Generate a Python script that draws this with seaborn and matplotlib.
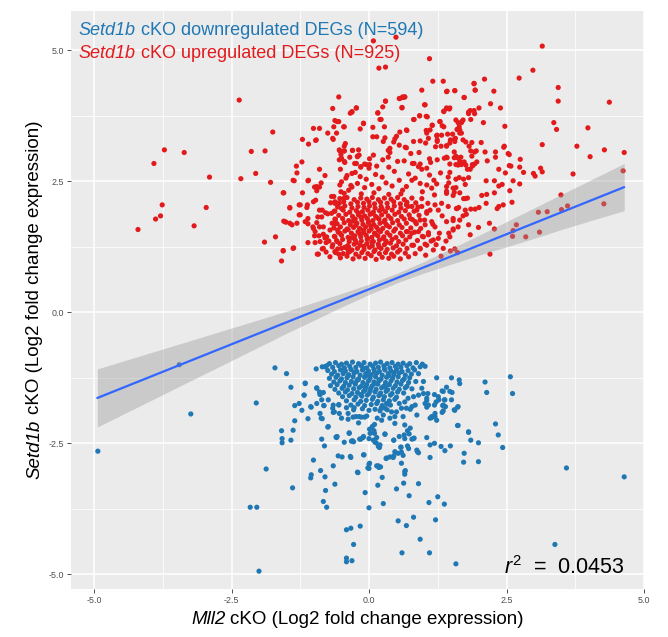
import numpy as np
import pandas as pd
import matplotlib
matplotlib.use("Agg")
import matplotlib.pyplot as plt
from matplotlib.transforms import offset_copy
import seaborn as sns

# ---------------- data ----------------
# Setd1b cKO upregulated DEGs (red)
up_outer = [(-2.36,4.05),(-3.72,3.10),(-3.36,3.05),(-3.91,2.84),(-2.90,2.58),(-2.33,2.55),(-3.76,2.05),
    (-2.96,2.00),(-3.79,1.84),(-3.88,1.78),(-3.18,1.65),(-4.20,1.58),(-1.75,3.44),(-2.14,3.07),(-1.89,3.08),
    (-2.06,2.65),(-1.79,2.48),(-1.90,1.34),(-1.70,1.44),(-1.59,0.98),(-1.56,1.17),(-1.37,1.23),(-1.55,2.28),
    (-1.55,1.74),(-1.51,1.72),(-1.44,2.00),(-1.40,1.67),(-1.31,1.70),(-1.27,1.86),(-1.25,2.05),(-1.38,2.52),
    (-1.31,2.66),(-1.32,2.79),(-1.22,2.87),(-1.21,3.30),(-1.10,3.21),(-0.97,3.28),(-1.01,3.51),(-0.90,3.51),
    (-1.11,2.51),(-1.21,2.28),(-1.12,2.05),(-1.13,2.00),(-1.11,1.79),(-1.11,1.69),(-1.11,1.33),(-0.98,1.33),
    (-0.94,1.11),(-0.90,2.73),(-0.80,2.61),(-0.99,2.39),(-0.90,2.39),(-0.95,2.32),(-0.97,2.14),(-0.87,2.47),
    (-0.75,3.42),(-0.66,3.32),(-0.59,3.42),(-0.66,3.89),(-0.55,4.11),(-0.62,3.66),(-0.55,3.64),(-0.46,3.54),
    (-0.64,3.54),(-0.34,3.80),(-0.31,3.83),(-0.23,3.90),(-0.10,3.60),(-0.16,3.50),(-0.43,3.22),(-0.45,3.17),
    (-0.53,3.08),(-0.45,3.08),(-0.54,2.91),(0.08,5.18),(0.49,5.25),(3.15,5.08),(0.18,4.66),(0.30,4.68),(1.10,4.84)]
up_left = [(-0.93,1.82),(-0.85,1.95),(-0.79,1.90),(-0.75,1.88),(-0.90,1.63),(-0.83,1.49),(-0.91,1.46),
    (-0.80,1.42),(-0.78,1.33),(-0.73,1.36),(-0.70,2.09),(-0.64,2.21),(-0.62,2.11),(-0.54,2.08),(-0.62,1.78),
    (-0.62,1.69),(-0.57,1.57),(-0.53,1.51),(-0.62,1.44),(-0.58,1.35),(-0.67,1.25),(-0.55,1.11),(-0.50,1.22),
    (-0.40,1.22),(-0.38,1.14),(-0.85,1.21),(-0.78,1.15),(-0.92,1.11),(-0.99,1.46),(-1.01,1.60),(-0.95,1.71),
    (-0.67,1.70),(-0.71,1.57),(-0.63,1.93),(-0.50,1.98),(-0.45,2.18),(-0.51,2.30),(-0.37,2.33),(-0.31,2.39),
    (-0.42,2.56),(-0.50,2.49),(-0.53,2.43),(-0.25,2.67),(-0.31,2.65),(-0.16,2.59),(-0.05,2.54),(-0.15,2.77),
    (-0.21,2.98),(-0.18,3.00),(-0.30,3.09),(-0.45,2.88),(-0.52,2.73),(-0.26,2.84),(-0.05,2.82),(0.00,2.75),
    (-1.56,2.28),(-1.44,1.99),(-1.53,1.73),(-1.36,2.51),(-1.27,2.05),(-1.25,1.86),(-1.16,1.73),(-1.10,2.52),
    (-1.01,2.11),(-0.95,2.40),(-0.90,1.95),(-0.86,1.82),(-0.83,1.63),(-0.98,1.54),(-0.89,1.35),(-0.77,1.44),
    (-0.68,1.89),(-0.68,2.21),(-0.62,2.08),(-1.38,1.22),(-1.56,1.18),(-0.83,1.22),(-0.62,1.16),(-0.71,1.06),
    (-1.02,1.63),(-1.44,1.70)]
up_upper = [(0.55,4.08),(0.62,4.10),(0.65,4.11),(0.16,3.81),(0.30,4.03),(0.60,3.91),(1.01,3.96),(1.41,4.21),
    (1.56,4.23),(1.73,4.10),(1.91,4.37),(1.93,4.24),(0.92,3.75),(1.04,3.74),(0.81,3.68),(0.68,3.48),(1.04,3.47),
    (1.15,3.57),(1.29,3.64),(1.33,3.56),(1.69,3.64),(1.71,3.67),(1.41,3.90),(1.47,3.90),(1.36,3.84),(1.58,3.67),
    (1.61,3.49),(1.81,3.82),(1.91,3.85),(1.85,3.68),(-0.10,3.61),(-0.45,3.54),(-0.58,3.64),(0.07,3.53),
    (0.28,3.54),(0.20,3.68),(0.07,3.35),(0.29,3.33),(0.50,3.36),(0.56,3.44),(0.69,3.47),(0.81,3.26),(0.93,3.27),
    (1.03,3.23),(1.08,3.32),(1.23,3.37),(1.24,3.29),(1.21,3.16),(1.31,3.17),(1.41,3.18),(1.48,3.29),(1.56,3.31),
    (1.52,3.40),(1.65,3.48),(1.71,3.29),(1.82,3.17),(1.87,3.24),(1.92,3.06),(1.76,3.25),(1.58,2.98),(1.61,2.95),
    (1.42,2.95),(1.37,2.94),(1.47,2.83),(1.65,2.88),(1.76,2.81),(1.88,2.82),(1.96,2.87),(1.24,2.91),(1.10,2.93),
    (0.93,2.83),(0.79,2.84),(0.64,2.89),(0.52,2.88),(0.35,2.96),(0.25,2.91),(0.14,2.79),(0.01,2.82),(-0.08,2.83),
    (-0.15,2.78),(-0.23,2.84),(-0.35,2.96),(-0.21,2.97),(-0.30,3.09),(-0.45,3.08),(-0.54,3.10),(-0.51,3.01),
    (-0.44,2.86),(-0.50,2.94),(-0.65,3.30),(-0.96,3.29),(0.47,3.31),(0.45,3.25),(0.66,3.15),(0.76,3.03),
    (0.91,3.05),(0.68,3.14),(0.55,3.19),(0.38,3.13),(0.35,3.09),(0.38,3.05),(0.26,3.26),(0.14,3.35),(0.08,3.00),
    (0.01,2.93),(-0.19,3.10),(2.73,4.47),(2.47,3.55)]
up_right = [(2.98,4.62),(1.16,4.41),(1.35,4.41),(2.10,4.45),(1.91,4.36),(1.93,4.24),(1.42,4.22),(1.56,4.23),
    (1.73,4.10),(2.27,4.22),(0.96,4.24),(0.65,4.11),(0.56,4.08),(0.61,4.11),(0.30,4.03),(0.25,3.92),(1.02,3.96),
    (0.60,3.90),(-0.23,3.90),(-0.31,3.82),(1.84,3.85),(1.92,3.79),(1.81,3.79),(2.00,3.90),(2.21,3.98),(2.39,3.90),
    (1.41,3.89),(1.46,3.88),(1.36,3.83),(0.16,3.80),(0.22,3.68),(0.82,3.68),(0.92,3.75),(1.06,3.73),(3.44,4.29),
    (3.44,4.03),(4.37,4.01),(2.08,3.62),(3.36,3.62),(3.41,3.49),(3.98,3.52),(3.15,3.20),(3.78,3.17),(4.28,3.10),
    (4.64,3.05),(4.02,2.97),(3.71,2.64),(4.62,2.70),(3.12,2.75),(3.15,2.68),(2.99,2.65),(3.02,2.60),(3.49,2.24),
    (4.27,2.07),(3.61,2.03),(3.50,1.96),(3.24,1.92),(3.08,1.91),(3.10,1.53),(2.85,1.44),(2.68,1.67),(2.62,1.56),
    (2.61,1.45),(2.28,1.59),(2.19,1.70),(2.20,1.11),(2.53,3.03),(2.55,3.01),(2.46,3.17),(2.45,3.15),(2.75,2.92),
    (2.74,2.77),(2.81,2.67),(2.55,2.80),(2.58,2.79),(2.36,2.73),(2.48,2.66),(2.74,2.45),(2.62,2.51),(2.42,2.44),
    (2.36,2.41),(2.60,2.10),(2.56,2.32),(2.44,2.05),(2.36,2.02),(2.33,1.98),(2.30,3.06),(2.30,2.96),(2.15,2.89),
    (2.11,3.06),(2.04,3.24),(2.28,2.51),(2.13,2.51),(2.28,2.28),(2.14,2.25),(2.05,2.23),(2.13,2.08),(2.00,2.00),
    (1.93,1.97),(1.85,1.97),(1.99,1.62),(1.81,1.67),(1.84,1.48),(1.53,1.75),(1.45,1.51),(1.56,1.21),(1.61,1.14),
    (1.71,1.84),(1.77,1.87),(1.75,2.17),(1.72,2.17),(1.79,2.18),(1.63,2.00),(1.60,1.98),(1.53,1.59),(1.85,3.08),
    (1.95,3.08),(1.87,2.98),(1.92,2.83),(1.88,2.79),(1.84,2.73),(1.79,2.73),(1.68,2.82),(1.73,2.87),(1.58,2.82),
    (1.55,2.95),(1.62,2.81),(1.47,2.67),(1.44,2.58),(1.45,2.47),(1.41,2.40),(1.41,2.31),(1.58,2.54),(1.64,2.57),
    (1.72,2.54),(1.81,2.57),(1.75,2.44),(1.55,2.29),(1.58,2.38),(1.65,2.28),(1.53,2.23),(1.29,3.64),(1.36,3.54),
    (1.15,3.57),(1.05,3.42),(1.11,3.48),(1.24,3.38),(1.24,3.26),(1.32,3.38),(1.43,3.40),(1.47,3.23),(1.41,3.17),
    (1.56,3.26),(1.57,3.32),(1.60,3.49),(1.64,3.54),(1.68,3.62),(1.62,3.62),(1.65,3.42),(1.68,3.42),(1.55,3.06),
    (1.67,2.96),(1.41,2.96)]
up_ring = [(0.68,2.40),(0.78,2.52),(0.84,2.56),(0.93,2.46),(1.05,2.43),(1.14,2.37),(0.82,2.84),(0.90,2.78),
    (0.96,2.73),(1.05,2.75),(1.10,2.62),(1.18,2.52),(1.23,2.45),(0.68,2.05),(0.78,2.02),(0.87,1.95),(0.96,2.02),
    (1.05,1.89),(1.11,1.95),(1.20,2.05),(1.26,1.95),(0.75,1.79),(0.84,1.73),(0.93,1.76),(1.02,1.67),(1.14,1.73),
    (1.20,1.63),(0.68,1.54),(0.78,1.51),(0.90,1.54),(0.99,1.44),(1.08,1.48),(1.17,1.38),(1.26,1.41),(0.81,1.28),
    (0.93,1.22),(1.05,1.28),(1.17,1.19),(1.35,1.22),(1.47,1.44),(1.53,1.57),(1.62,1.63),(1.41,1.73),(1.53,1.79),
    (1.65,1.76),(1.75,1.95),(1.59,1.98),(1.44,2.02),(1.32,2.08),(1.41,2.27),(1.53,2.37),(0.42,2.41),(0.31,2.47),
    (0.18,2.36),(0.05,2.44),(-0.08,2.38),(-0.21,2.46),(0.55,2.52),(0.24,2.58),(0.61,2.33),(-0.33,2.42),
    (0.12,2.63),(0.46,2.69),(0.72,2.64),(0.97,2.30),(1.19,2.24),(1.30,2.66),(1.12,2.86),(0.36,2.77),(-0.40,2.61),
    (1.28,1.51),(1.33,1.84),(1.22,1.29),(1.40,1.36),(1.03,1.09),(1.31,1.07),(1.48,1.17)]
up_core = [(-0.52,1.04),(-0.40,1.07),(-0.29,1.02),(-0.18,1.06),(-0.07,1.03),(0.04,1.08),(0.13,1.01),(0.24,1.05),
    (0.36,1.03),(0.45,1.07),(0.57,1.02),(0.72,1.06),(-0.61,1.14),(-0.47,1.12),(-0.35,1.16),(-0.24,1.11),
    (-0.13,1.14),(-0.02,1.12),(0.09,1.16),(0.19,1.12),(0.30,1.14),(0.41,1.11),(0.52,1.15),(0.66,1.13),(0.84,1.12),
    (-0.57,1.21),(-0.44,1.24),(-0.31,1.19),(-0.21,1.22),(-0.09,1.20),(0.01,1.24),(0.11,1.19),(0.22,1.22),
    (0.33,1.20),(0.44,1.23),(0.56,1.19),(0.69,1.22),(0.93,1.21),(-0.66,1.29),(-0.53,1.31),(-0.39,1.27),
    (-0.27,1.30),(-0.16,1.28),(-0.04,1.31),(0.06,1.27),(0.17,1.30),(0.28,1.29),(0.39,1.32),(0.50,1.27),(0.62,1.30),
    (0.78,1.28),(1.02,1.30),(-0.59,1.37),(-0.48,1.39),(-0.36,1.35),(-0.25,1.38),(-0.14,1.36),(-0.03,1.39),
    (0.08,1.35),(0.19,1.38),(0.31,1.36),(0.42,1.39),(0.54,1.35),(0.67,1.38),(0.88,1.37),(1.13,1.36),
    (-0.63,1.45),(-0.50,1.47),(-0.38,1.43),(-0.26,1.46),(-0.15,1.44),(-0.05,1.47),(0.05,1.43),(0.16,1.46),
    (0.27,1.44),(0.38,1.47),(0.49,1.43),(0.61,1.46),(0.74,1.44),(0.97,1.45),(-0.56,1.53),(-0.44,1.55),
    (-0.32,1.51),(-0.20,1.54),(-0.10,1.52),(0.00,1.55),(0.10,1.51),(0.21,1.54),(0.33,1.52),(0.45,1.55),
    (0.57,1.51),(0.70,1.54),(0.83,1.53),(1.08,1.52),(-0.64,1.61),(-0.52,1.63),(-0.40,1.59),(-0.28,1.62),
    (-0.17,1.60),(-0.06,1.63),(0.04,1.59),(0.14,1.62),(0.25,1.60),(0.37,1.63),(0.48,1.59),(0.60,1.62),(0.76,1.61),
    (0.94,1.60),(-0.58,1.69),(-0.45,1.71),(-0.34,1.67),(-0.22,1.70),(-0.11,1.68),(-0.01,1.71),(0.09,1.67),
    (0.20,1.70),(0.31,1.68),(0.43,1.71),(0.55,1.67),(0.68,1.70),(0.86,1.69),(1.16,1.68),(-0.61,1.77),(-0.48,1.79),
    (-0.37,1.75),(-0.25,1.78),(-0.13,1.76),(-0.03,1.79),(0.07,1.75),(0.18,1.78),(0.29,1.76),(0.40,1.79),(0.52,1.75),
    (0.64,1.78),(0.79,1.77),(1.01,1.76),(-0.55,1.85),(-0.42,1.87),(-0.30,1.83),(-0.19,1.86),(-0.08,1.84),
    (0.02,1.87),(0.12,1.83),(0.23,1.86),(0.35,1.84),(0.47,1.87),(0.59,1.83),(0.73,1.86),(0.91,1.85),(-0.62,1.93),
    (-0.47,1.95),(-0.35,1.91),(-0.23,1.94),(-0.12,1.92),(-0.02,1.95),(0.08,1.91),(0.19,1.94),(0.30,1.92),
    (0.42,1.95),(0.54,1.91),(0.66,1.94),(0.82,1.93),(1.05,1.92),(-0.57,2.01),(-0.44,2.03),(-0.31,1.99),
    (-0.20,2.02),(-0.09,2.00),(0.01,2.03),(0.11,1.99),(0.22,2.02),(0.34,2.00),(0.46,2.03),(0.58,1.99),(0.71,2.02),
    (0.89,2.01),(-0.60,2.09),(-0.46,2.11),(-0.33,2.07),(-0.21,2.10),(-0.10,2.08),(0.00,2.11),(0.10,2.07),
    (0.21,2.10),(0.33,2.08),(0.45,2.11),(0.57,2.07),(0.69,2.10),(0.85,2.09),(1.07,2.08),(-0.53,2.17),(-0.40,2.19),
    (-0.27,2.15),(-0.15,2.18),(-0.04,2.16),(0.06,2.19),(0.17,2.15),(0.28,2.18),(0.40,2.16),(0.52,2.19),(0.64,2.15),
    (0.78,2.18),(0.96,2.17),(-0.37,1.25),(-0.23,1.33),(-0.09,1.26),(0.05,1.34),(0.18,1.25),(0.31,1.33),
    (-0.31,1.42),(-0.17,1.50),(-0.03,1.41),(0.12,1.49),(0.26,1.41),(-0.38,1.58),(-0.24,1.66),(-0.10,1.57),
    (0.03,1.65),(0.17,1.57),(0.32,1.66),(-0.29,1.74),(-0.15,1.82),(-0.01,1.73),(0.14,1.81),(0.27,1.73),
    (-0.20,1.90),(0.06,1.89),(0.24,1.97),(-0.14,2.26),(0.09,2.28),(0.36,2.25),(-0.45,2.27),(0.58,2.26)]

# Setd1b cKO downregulated DEGs (blue)
dn_outer = [(-4.93,-2.65),(-3.24,-1.94),(-3.45,-1.00),(-2.05,-1.73),(-1.71,-1.06),(-1.50,-1.17),(-1.42,-1.43),
    (-1.87,-2.99),(-2.16,-3.72),(-2.04,-3.72),(-2.00,-4.94),(-1.39,-3.35),(-1.59,-2.26),(-1.58,-2.41),
    (-1.58,-2.49),(-1.42,-2.44),(-1.38,-2.25),(-1.35,-2.07),(-1.35,-1.78),(-1.27,-1.74),(-1.22,-1.87),
    (-1.11,-2.03),(-1.16,-1.35),(-1.18,-1.58),(-1.06,-1.80),(-0.95,-1.44),(-0.95,-1.74),(-0.90,-1.52),
    (-0.89,-1.56),(-0.82,-1.78),(-0.74,-1.67),(-0.89,-1.93),(-0.85,-2.03),(-0.75,-2.19),(-0.86,-2.42),
    (-0.81,-2.55),(-1.01,-2.82),(-0.88,-3.02),(-0.80,-3.14),(-1.05,-3.10),(-1.06,-3.16),(-0.62,-3.28),
    (-0.79,-3.40),(-0.83,-3.61),(-0.77,-3.72),(-0.65,-2.93),(-0.56,-2.74),(-0.49,-2.76),(-0.33,-2.77),
    (-0.10,-2.72),(-0.20,-3.06),(-0.07,-3.44),(0.00,-3.73),(0.00,-2.90),(0.00,-2.98),(-0.41,-4.15),
    (-0.33,-4.12),(-0.16,-4.08),(-0.28,-4.43),(-0.41,-4.69),(-0.41,-4.76),(-0.31,-4.74),(-0.58,-2.37),
    (-0.59,-2.39),(-0.45,-2.48),(-0.30,-2.45),(-0.28,-2.47),(-0.17,-2.42),(-0.11,-2.39),(0.00,-2.41),
    (-0.36,-2.31),(-0.19,-2.11),(-0.24,-1.99),(-0.14,-2.00),(-0.08,-2.00),(-0.38,-2.04),(-0.50,-2.02),
    (-0.54,-1.93),(-0.63,-1.90),(-0.66,-1.83),(-0.65,-1.77),(-0.55,-1.76),(-0.41,-1.82),(-0.27,-1.82),
    (2.57,-1.23),(2.61,-1.55),(2.11,-1.33),(2.14,-1.53),(2.30,-2.13),(2.35,-2.34),(2.43,-2.58),(3.59,-2.97),
    (4.64,-3.14),(3.38,-4.43),(1.58,-4.80),(1.10,-4.59),(0.60,-4.59),(0.93,-4.33),(1.21,-3.96),(0.81,-3.91),
    (0.68,-4.07),(0.53,-3.98),(1.37,-3.66),(1.25,-3.52),(1.09,-3.63),(0.73,-3.50),(0.26,-3.65),(0.50,-3.37),
    (0.16,-3.30),(0.63,-3.26),(0.90,-3.27),(0.24,-3.15),(0.66,-3.02),(0.65,-3.09),(-0.02,-2.97),(0.14,-2.93),
    (0.18,-2.96),(0.21,-2.95),(1.72,-2.86),(1.99,-2.85),(1.73,-2.69),(1.11,-2.77),(0.44,-2.77),(0.38,-2.76),
    (0.32,-2.78),(0.53,-2.69),(0.47,-2.66),(0.62,-2.73),(0.59,-2.67),(0.87,-2.63),(0.90,-2.68),(0.70,-2.55),
    (0.72,-2.60),(0.58,-2.57),(1.31,-2.56),(1.38,-2.64),(1.48,-2.55),(1.81,-2.28),(1.85,-2.44),(1.99,-2.49),
    (1.61,-2.16),(1.05,-2.39),(1.11,-2.53),(1.19,-2.50),(0.81,-2.41),(0.73,-2.32),(0.29,-2.32),(0.45,-2.44),
    (0.55,-2.37),(0.65,-2.41),(0.08,-2.44),(0.13,-2.49),(0.19,-2.58),(0.01,-2.23),(0.10,-2.31),(0.14,-2.39)]
dn_mid = [(-1.16,-1.36),(-1.18,-1.58),(-1.05,-1.81),(-0.96,-1.08),(-0.85,-1.04),(-0.77,-1.02),(-0.95,-1.45),
    (-0.89,-1.57),(-0.83,-1.53),(-0.86,-1.67),(-0.82,-1.78),(-0.87,-2.02),(-0.74,-2.18),(-0.65,-1.91),
    (-0.55,-1.77),(-0.38,-1.93),(-0.29,-2.00),(-0.18,-1.99),(-0.04,-1.98),(-0.36,-2.30),(-0.60,-2.38),
    (-0.32,-2.46),(-0.15,-2.42),(-0.10,-2.37),(0.02,-2.31),(0.09,-2.26),(0.11,-2.48),(0.20,-2.53),(0.17,-2.56),
    (0.06,-2.18),(0.10,-2.14),(0.15,-2.02),(0.20,-1.88),(0.26,-1.96),(0.23,-2.06),(0.29,-2.33),(0.45,-2.44),
    (0.64,-2.34),(0.70,-2.26),(0.75,-2.21),(0.65,-2.15),(0.78,-2.42),(0.82,-2.40),(0.88,-2.66),(0.58,-2.58),
    (0.45,-2.74),(0.31,-2.79),(0.59,-2.88),(0.65,-3.04),(0.17,-2.93),(0.01,-2.88),(-0.09,-2.72),(-0.21,-3.05),
    (-0.34,-2.75),(0.38,-2.02),(0.47,-1.99),(0.41,-1.90),(0.50,-1.90),(0.59,-1.83),(0.62,-1.99),(0.68,-1.83),
    (0.75,-1.85),(0.78,-1.80),(0.84,-1.77),(0.87,-1.96),(0.47,-2.12),(0.39,-1.77),(0.32,-1.74),(0.29,-1.83),
    (0.55,-1.74),(0.65,-1.71),(0.71,-1.64),(0.81,-1.61),(0.90,-1.58),(0.99,-1.55),(0.96,-1.45),(1.05,-1.64),
    (1.02,-1.74),(1.08,-1.77),(1.11,-2.02),(1.14,-1.99),(1.20,-1.93),(1.22,-1.71),(1.26,-1.61),(1.35,-1.51),
    (1.39,-1.80),(1.35,-1.77),(1.38,-1.67),(1.47,-1.51),(1.50,-1.67),(1.55,-1.86),(1.62,-1.80),(1.64,-1.29),
    (1.50,-1.25),(1.23,-1.25),(1.65,-1.36),(1.41,-1.43),(0.99,-1.32),(1.34,-1.78),(1.35,-1.88),(1.33,-1.91),
    (1.19,-1.77),(1.20,-1.99),(1.23,-2.06),(1.14,-2.01),(1.05,-1.81),(1.05,-1.68),(1.07,-1.55),(1.62,-2.16),
    (1.81,-2.29),(1.33,-1.50),(1.19,-1.57),(1.27,-1.67),(1.37,-1.67),(1.56,-1.87),(1.61,-1.81),(1.51,-1.53)]
dn_core = [(-0.72,-0.98),(-0.61,-0.96),(-0.50,-0.99),(-0.41,-0.97),(-0.30,-0.95),(-0.19,-0.98),(-0.09,-0.96),
    (0.02,-0.99),(0.12,-0.97),(0.21,-0.95),(0.33,-0.98),(0.42,-0.96),(0.53,-0.99),(0.62,-0.97),(0.74,-0.98),
    (0.86,-0.96),(0.97,-0.99),(-0.80,-1.04),(-0.66,-1.05),(-0.55,-1.02),(-0.45,-1.06),(-0.35,-1.03),(-0.24,-1.05),
    (-0.14,-1.02),(-0.04,-1.06),(0.07,-1.03),(0.17,-1.05),(0.27,-1.02),(0.38,-1.06),(0.48,-1.03),(0.58,-1.05),
    (0.69,-1.02),(0.80,-1.06),(0.93,-1.04),(1.02,-1.03),(-0.75,-1.11),(-0.63,-1.13),(-0.52,-1.10),(-0.43,-1.12),
    (-0.33,-1.09),(-0.22,-1.13),(-0.12,-1.10),(-0.01,-1.12),(0.09,-1.09),(0.19,-1.13),(0.29,-1.10),(0.40,-1.12),
    (0.50,-1.09),(0.60,-1.13),(0.71,-1.11),(0.83,-1.10),(-0.68,-1.18),(-0.57,-1.20),(-0.47,-1.17),(-0.37,-1.19),
    (-0.27,-1.16),(-0.16,-1.20),(-0.06,-1.17),(0.04,-1.19),(0.14,-1.16),(0.24,-1.20),(0.35,-1.17),(0.45,-1.19),
    (0.55,-1.16),(0.66,-1.20),(0.77,-1.18),(0.90,-1.17),(-0.72,-1.26),(-0.60,-1.24),(-0.50,-1.27),(-0.40,-1.25),
    (-0.29,-1.23),(-0.19,-1.27),(-0.08,-1.24),(0.02,-1.26),(0.12,-1.23),(0.22,-1.27),(0.32,-1.24),(0.43,-1.26),
    (0.53,-1.23),(0.64,-1.27),(0.74,-1.25),(-0.64,-1.33),(-0.53,-1.31),(-0.43,-1.34),(-0.32,-1.32),(-0.22,-1.30),
    (-0.11,-1.34),(-0.01,-1.31),(0.09,-1.33),(0.19,-1.30),(0.30,-1.34),(0.40,-1.31),(0.51,-1.33),(0.61,-1.30),
    (0.72,-1.34),(0.85,-1.32),(-0.70,-1.40),(-0.58,-1.38),(-0.46,-1.41),(-0.36,-1.39),(-0.25,-1.37),(-0.14,-1.41),
    (-0.04,-1.38),(0.06,-1.40),(0.16,-1.37),(0.27,-1.41),(0.37,-1.38),(0.48,-1.40),(0.58,-1.37),(0.69,-1.41),
    (-0.62,-1.47),(-0.49,-1.45),(-0.39,-1.48),(-0.28,-1.46),(-0.18,-1.44),(-0.07,-1.48),(0.03,-1.45),(0.13,-1.47),
    (0.23,-1.44),(0.34,-1.48),(0.44,-1.45),(0.55,-1.47),(0.66,-1.44),(0.78,-1.46),(-0.55,-1.54),(-0.43,-1.52),
    (-0.31,-1.55),(-0.21,-1.53),(-0.10,-1.51),(0.00,-1.55),(0.11,-1.52),(0.21,-1.54),(0.31,-1.51),(0.42,-1.55),
    (0.52,-1.52),(0.63,-1.54),(-0.48,-1.61),(-0.36,-1.59),(-0.24,-1.62),(-0.13,-1.60),(-0.03,-1.58),(0.08,-1.62),
    (0.18,-1.59),(0.28,-1.61),(0.39,-1.58),(0.50,-1.62),(-0.41,-1.69),(-0.27,-1.67),(-0.15,-1.70),(-0.05,-1.68),
    (0.06,-1.66),(0.16,-1.70),(0.26,-1.67),(0.37,-1.69),(0.47,-1.66),(-0.33,-1.77),(-0.20,-1.75),(-0.08,-1.78),
    (0.04,-1.76),(0.14,-1.74),(0.24,-1.78),(0.35,-1.75),(-0.28,-1.86),(-0.12,-1.84),(0.00,-1.87),(0.11,-1.85),
    (0.22,-1.83),(0.33,-1.86),(-0.45,-1.07),(-0.27,-1.14),(-0.09,-1.07),(0.10,-1.14),(0.28,-1.07),(0.46,-1.15),
    (-0.38,-1.21),(-0.20,-1.29),(0.00,-1.21),(0.18,-1.29),(0.36,-1.21),(-0.25,-1.36),(-0.06,-1.43),(0.12,-1.36),
    (0.30,-1.43),(0.02,-1.50),(0.20,-1.57),(-0.15,-1.57)]

# fitted regression line and 95% band
fit_x  = [-4.94,-4.5,-4.0,-3.5,-3.0,-2.5,-2.0,-1.5,-1.0,-0.5,0.0,0.37,0.5,1.0,1.5,2.0,2.5,3.0,3.5,4.0,4.64]
fit_y  = [-1.635,-1.45,-1.24,-1.03,-0.82,-0.61,-0.40,-0.19,0.02,0.23,0.44,0.595,0.65,0.86,1.07,1.28,1.49,1.70,1.91,2.12,2.389]
fit_lo = [-2.19,-1.96,-1.70,-1.44,-1.18,-0.92,-0.66,-0.40,-0.15,0.10,0.34,0.50,0.56,0.75,0.92,1.09,1.25,1.41,1.58,1.74,1.94]
fit_hi = [-1.08,-0.94,-0.78,-0.62,-0.46,-0.30,-0.14,0.02,0.19,0.36,0.54,0.69,0.74,0.97,1.22,1.47,1.73,1.99,2.25,2.51,2.84]

groups = ["up", "down"]
colors = {"up": "#E31A1C", "down": "#1F78B4"}
label_dn = [("Setd1b", "italic"), ("cKO downregulated DEGs (N=594)", "normal")]
label_up = [("Setd1b", "italic"), ("cKO upregulated DEGs (N=925)", "normal")]
xlab = [("Mll2", "italic"), ("cKO (Log2 fold change expression)", "normal")]
ylab = [("Setd1b", "italic"), ("cKO (Log2 fold change expression)", "normal")]
r2_text = r"$\mathit{r}^{2}$  =  0.0453"
x_ticks = [-5.0, -2.5, 0.0, 2.5, 5.0]
y_ticks = [-5.0, -2.5, 0.0, 2.5, 5.0]

# ---------------- build table ----------------
up_all = up_outer + up_left + up_upper + up_right + up_ring + up_core
dn_all = dn_outer + dn_mid + dn_core
df = pd.DataFrame(
    [(x, y, "up") for x, y in up_all] + [(x, y, "down") for x, y in dn_all],
    columns=["x", "y", "group"])

# ---------------- style ----------------
sns.set_theme(style="white")
plt.rcParams['font.family'] = ['Liberation Sans', 'DejaVu Sans']
plt.rcParams['mathtext.fontset'] = 'custom'
plt.rcParams['mathtext.rm'] = 'Liberation Sans'
plt.rcParams['mathtext.it'] = 'Liberation Sans:italic'
plt.rcParams['mathtext.bf'] = 'Liberation Sans:bold'

fig = plt.figure(figsize=(6.68, 6.37), dpi=100)
L, R, T, B = 70.9, 644.0, 11.0, 589.0
ax = fig.add_axes([L / 668, 1 - B / 637, (R - L) / 668, (B - T) / 637])
ax.set_facecolor("#EBEBEB")
for s in ax.spines.values():
    s.set_visible(False)

sns.scatterplot(data=df, x="x", y="y", hue="group", palette=colors, hue_order=groups,
                s=14, linewidth=0, legend=False, ax=ax, zorder=3)
ax.fill_between(fit_x, fit_lo, fit_hi, color="#999999", alpha=0.4, linewidth=0, zorder=4)
sns.lineplot(x=fit_x, y=fit_y, color="#3366FF", linewidth=1.6, ax=ax, zorder=5, sort=False)

ax.set_xlim(-5.42, 5.0)
ax.set_ylim(-5.28, 5.75)
ax.set_xticks(x_ticks)
ax.set_yticks(y_ticks)
ax.set_xticklabels([f"{v:.1f}" for v in x_ticks])
ax.set_yticklabels([f"{v:.1f}" for v in y_ticks])
ax.set_xticks([-3.75, -1.25, 1.25, 3.75], minor=True)
ax.set_yticks([-3.75, -1.25, 1.25, 3.75], minor=True)
ax.set_axisbelow(True)
ax.grid(which="major", color="white", linewidth=1.1)
ax.grid(which="minor", color="white", linewidth=0.55)
ax.tick_params(which="major", direction="out", length=3, width=0.6, color="#333333",
               labelsize=6.4, labelcolor="#4D4D4D", pad=2, bottom=True, left=True)
ax.tick_params(which="minor", length=0)
ax.set_xlabel("")
ax.set_ylabel("")

renderer = fig.canvas.get_renderer()


def text_width_px(s, size, style):
    t = fig.text(0, 0, s, fontsize=size, fontstyle=style)
    w = t.get_window_extent(renderer=renderer).width
    t.remove()
    return w


def rich_text(x, y, parts, transform, size, color, rotation=0, center=False):
    """Draw a run of text pieces with different styles along the baseline."""
    space = text_width_px("x x", size, "normal") - text_width_px("xx", size, "normal")
    widths = [text_width_px(s, size, st) for s, st in parts]
    total = sum(widths) + space * (len(parts) - 1)
    off = -total / 2 if center else 0.0
    for (s, st), w in zip(parts, widths):
        d = off * 72.0 / fig.dpi
        if rotation == 0:
            tr = offset_copy(transform, fig=fig, x=d, y=0, units="points")
        else:
            tr = offset_copy(transform, fig=fig, x=0, y=d, units="points")
        fig.text(x, y, s, transform=tr, fontsize=size, fontstyle=st, color=color,
                 rotation=rotation, rotation_mode="anchor", ha="left", va="baseline", zorder=6)
        off += w + space


# axis titles (baseline positions in figure pixels)
rich_text((L + R) / 2 / 668, 1 - 624 / 637, xlab, fig.transFigure, 13.5, "black", center=True)
rich_text(39 / 668, 1 - (T + B) / 2 / 637, ylab, fig.transFigure, 13.5, "black", rotation=90, center=True)

# group labels inside the panel (data coordinates)
rich_text(-5.28, 5.30, label_dn, ax.transData, 13, colors["down"])
rich_text(-5.28, 4.845, label_up, ax.transData, 13, colors["up"])

ax.text(2.45, -4.88, r2_text, color="black", fontsize=15.5, ha="left", va="center", zorder=6)

fig.savefig("out.png", dpi=100)
